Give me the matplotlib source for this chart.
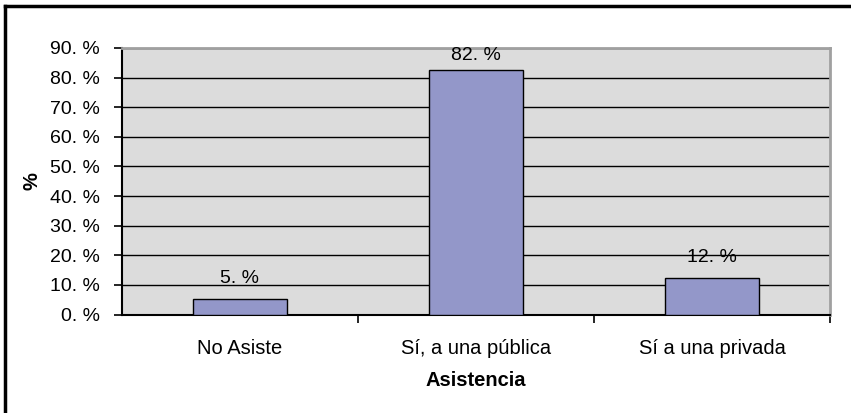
import numpy as np
import matplotlib
matplotlib.use("Agg")
import matplotlib.pyplot as plt
from matplotlib.lines import Line2D

categories = ["No Asiste", "Sí, a una pública", "Sí a una privada"]
values = [5.3, 82.5, 12.2]
yticks = [0, 10, 20, 30, 40, 50, 60, 70, 80, 90]

plt.rcParams["font.family"] = ["Liberation Sans", "DejaVu Sans"]

W, H = 851, 413
fig = plt.figure(figsize=(W / 100, H / 100), dpi=100)
ax = fig.add_axes([122 / W, 1 - 314.5 / H, (830 - 122) / W, (314.5 - 48) / H])

x = np.arange(len(categories))
ax.set_facecolor("#dcdcdc")
ax.bar(x, values, width=0.4, color="#9397c9", edgecolor="black", linewidth=1.0, zorder=3)

for xi, v in zip(x, values):
    ax.text(xi, min(v + 4.1, 84.6), f"{int(v)}. %", ha="center", va="bottom",
            fontsize=14, zorder=4)

ax.set_xlim(-0.5, len(categories) - 0.5)
ax.set_ylim(0, 90)
ax.set_yticks(yticks)
ax.set_yticklabels([f"{t}. %" for t in yticks], fontsize=14)
ax.yaxis.grid(True, color="black", linewidth=1.0, zorder=1)
ax.set_axisbelow(True)
ax.tick_params(axis="y", direction="out", length=6, width=1.2, pad=10)

# category boundaries carry the tick marks, labels sit at the centres
ax.set_xticks(x + 0.5)
ax.set_xticklabels([])
ax.set_xticks(x, minor=True)
ax.set_xticklabels(categories, minor=True, fontsize=14.5)
ax.tick_params(axis="x", which="major", direction="out", length=6, width=1.2)
ax.tick_params(axis="x", which="minor", length=0, pad=18)

for side in ("left", "bottom"):
    ax.spines[side].set_color("black")
    ax.spines[side].set_linewidth(1.5)
for side in ("top", "right"):
    ax.spines[side].set_color("#a0a0a0")
    ax.spines[side].set_linewidth(2)

ax.set_xlabel("Asistencia", fontsize=14.5, fontweight="bold", labelpad=9)
ax.set_ylabel("%", fontsize=14.5, fontweight="bold", labelpad=6)

# outer chart frame (left and top edges visible)
fig.add_artist(Line2D([4.5 / W, 4.5 / W], [0, 1 - 6 / H], color="black", lw=2.5,
                      transform=fig.transFigure))
fig.add_artist(Line2D([4.5 / W, 1], [1 - 6 / H, 1 - 6 / H], color="black", lw=2.5,
                      transform=fig.transFigure))

fig.savefig("out.png", dpi=100)
